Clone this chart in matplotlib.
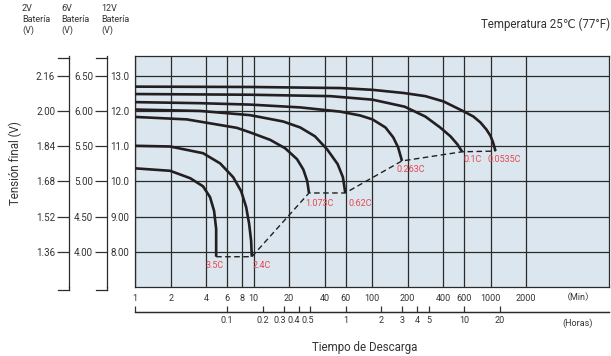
import matplotlib
matplotlib.use('Agg')
import matplotlib.pyplot as plt
from matplotlib.ticker import NullLocator
from matplotlib.transforms import ScaledTranslation

plt.rcParams['font.family'] = ['Roboto', 'DejaVu Sans', 'Noto Sans CJK SC']

# ejes
min_ticks = [1, 2, 4, 6, 8, 10, 20, 40, 60, 100, 200, 400, 600, 1000, 2000]
hour_ticks = [0.1, 0.2, 0.3, 0.4, 0.5, 1, 2, 3, 4, 5, 10, 20]
hour_labels = ['0.1', '0.2', '0.3', '0.4', '0.5', '1', '2', '3', '4', '5', '10', '20']
v12_ticks = [13, 12, 11, 10, 9, 8]
v12_labels = ['13.0', '12.0', '11.0', '10.0', '9.00', '8.00']
v6_labels = ['6.50', '6.00', '5.50', '5.00', '4.50', '4.00']
v2_labels = ['2.16', '2.00', '1.84', '1.68', '1.52', '1.36']

# curvas de descarga (min, V para bateria 12V)
rates = ['3.5C', '2.4C', '1.073C', '0.62C', '0.263C', '0.1C', '0.0535C']
t_35c = [1, 1.98, 2.92, 3.75, 4.30, 4.65, 4.84, 4.84]
v_35c = [10.37, 10.30, 10.09, 9.86, 9.55, 9.16, 8.65, 7.86]
t_24c = [1, 1.98, 3.75, 5.23, 6.73, 7.87, 8.67, 9.19, 9.55, 9.68]
v_24c = [11.01, 10.99, 10.80, 10.51, 10.12, 9.72, 9.27, 8.79, 8.31, 7.86]
t_1073c = [1, 2.73, 7.23, 9.37, 13.8, 18.5, 23.3, 26.3, 28.4, 29.4]
v_1073c = [11.83, 11.76, 11.52, 11.39, 11.18, 10.94, 10.63, 10.34, 10.01, 9.67]
t_062c = [1, 3.54, 9.37, 17.8, 24.8, 33.0, 41.8, 51.3, 56.8, 59.5]
v_062c = [12.04, 12.00, 11.88, 11.70, 11.53, 11.28, 10.91, 10.49, 10.12, 9.67]
t_0263c = [1, 3.54, 9.37, 24.8, 54, 79.6, 100.9, 130, 151, 166, 179]
v_0263c = [12.25, 12.22, 12.18, 12.10, 11.98, 11.87, 11.76, 11.53, 11.25, 10.97, 10.58]
t_01c = [1, 9.37, 44.5, 100.9, 189, 282, 376, 459, 526, 577]
v_01c = [12.48, 12.46, 12.42, 12.32, 12.12, 11.84, 11.53, 11.28, 11.05, 10.84]
t_00535c = [1, 9.75, 54, 100, 184, 282, 401, 592, 718, 824, 925, 1000, 1050, 1102]
v_00535c = [12.69, 12.68, 12.65, 12.60, 12.51, 12.42, 12.27, 11.99, 11.84, 11.67,
            11.47, 11.29, 11.11, 10.86]

curves = [(t_35c, v_35c), (t_24c, v_24c), (t_1073c, v_1073c), (t_062c, v_062c),
          (t_0263c, v_0263c), (t_01c, v_01c), (t_00535c, v_00535c)]

dark = '#231f20'
grid_c = '#2a2a2a'
txt_c = '#333333'
red = '#e8474f'

fig = plt.figure(figsize=(6.11, 3.56), dpi=100)
ax = fig.add_axes([135/611, 1-287/356, 474/611, 231/356])
ax.set_facecolor('#dbe6ee')
ax.set_xscale('log')
ax.set_xlim(1, 10000)
ax.set_ylim(7.0, 13.56)
ax.set_xticks(min_ticks)
ax.set_xticklabels([str(m) for m in min_ticks])
ax.set_yticks(v12_ticks)
ax.set_yticklabels(v12_labels)
ax.xaxis.set_minor_locator(NullLocator())
ax.tick_params(length=0, labelsize=7, colors=txt_c)
ax.tick_params(axis='x', pad=5, labelsize=6.5)
ax.tick_params(axis='y', pad=4)
ax.grid(True, color=grid_c, lw=0.9)
ax.set_axisbelow(True)
for s in ax.spines.values():
    s.set_color(grid_c)
    s.set_linewidth(0.9)

for t, v in curves:
    ax.plot(t, v, color=dark, lw=1.9, solid_capstyle='butt',
            solid_joinstyle='round', zorder=3)

end_t = [c[0][-1] for c in curves]
end_v = [c[1][-1] for c in curves]
ax.plot(end_t, end_v, color=dark, lw=1.0, ls=(0, (4, 2.5)), zorder=3)

offs = [(-11, -9), (1, -9), (-4, -11), (3, -11), (-5, -9), (1, -8), (-8, -8)]
for r, et, ev, (dx, dy) in zip(rates, end_t, end_v, offs):
    ax.annotate(r, (et, ev), xytext=(dx, dy), textcoords='offset pixels',
                color=red, fontsize=6.5, ha='left', va='center')

# ejes 6V y 2V
for loc, labs in [(-0.059, v6_labels), (-0.139, v2_labels)]:
    sa = ax.secondary_yaxis(loc)
    sa.set_yticks(v12_ticks)
    sa.set_yticklabels(labs)
    sa.tick_params(length=8.5, width=0.9, pad=1.5, labelsize=7, colors=txt_c)
    sa.spines['left'].set_color(grid_c)
    sa.spines['left'].set_linewidth(0.9)
    for yy in (0.991, -0.013):
        ax.plot([loc - 0.024, loc], [yy, yy], transform=ax.transAxes,
                clip_on=False, color=grid_c, lw=0.9)
    ax.plot([loc, loc], [0, -0.013], transform=ax.transAxes,
            clip_on=False, color=grid_c, lw=0.9)

# eje de horas
sx = ax.secondary_xaxis(-0.108)
sx.set_xticks([1] + [h * 60 for h in hour_ticks])
sx.set_xticklabels([''] + hour_labels)
sx.xaxis.set_minor_locator(NullLocator())
sx.tick_params(direction='in', length=4.3, width=0.9, pad=3, labelsize=6.5, colors=txt_c)
sx.spines['bottom'].set_color(grid_c)
sx.spines['bottom'].set_linewidth(0.9)
ax.plot([0, 1], [-0.108, -0.108], transform=ax.transAxes, clip_on=False,
        color=grid_c, lw=0.9)
# las etiquetas apretadas se corren un poco a la izquierda, como en el original
shift = {'0.3': -4, '0.4': -4.5, '0.5': -2}
for lab in sx.get_xticklabels():
    dx = shift.get(lab.get_text(), 0)
    if dx:
        lab.set_transform(lab.get_transform() + ScaledTranslation(dx/100, 0, fig.dpi_scale_trans))

fig.text(578/611, 1-298/356, '（Min）', fontsize=6.5, color=txt_c, ha='center', va='center')
fig.text(578/611, 1-323/356, '(Horas)', fontsize=6.5, color=txt_c, ha='center', va='center')
fig.text(365/611, 1-348/356, 'Tiempo de Descarga', fontsize=8.3, color=txt_c,
         ha='center', va='center')
fig.text(15/611, 1-163/356, 'Tensión final (V)', fontsize=8.3, color=txt_c, rotation=90,
         ha='center', va='center')
fig.text(610/611, 1-24/356, 'Temperatura 25℃ (77°F)', fontsize=8.3, color=txt_c,
         ha='right', va='center')
for x, h in [(22, '2V'), (61, '6V'), (101, '12V')]:
    fig.text(x/611, 1-4/356, h + '\nBatería\n(V)', fontsize=6.5, color=txt_c,
             ha='left', va='top', linespacing=1.25)

fig.savefig('out.png', dpi=100)
